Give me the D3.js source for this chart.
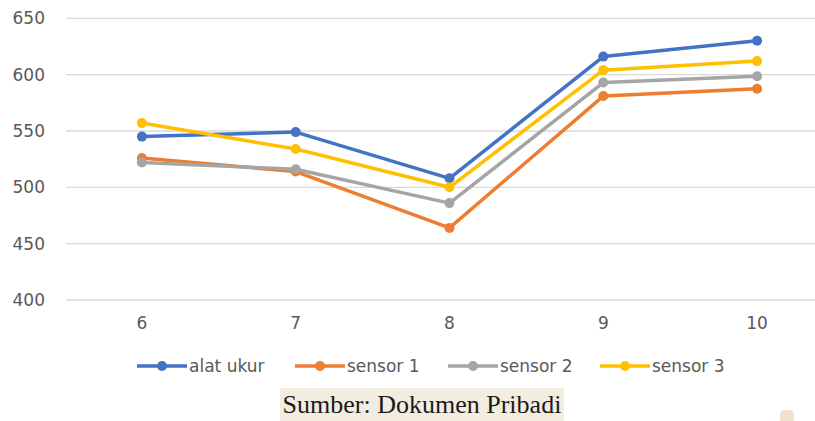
<!DOCTYPE html>
<html><head><meta charset="utf-8">
<script src="https://cdn.jsdelivr.net/npm/d3@7"></script>
<style>html,body{margin:0;padding:0;background:#fff;}svg{display:block;}</style>
</head><body>
<svg id="chart" width="815" height="421"></svg>
<script>
const categories = ["6", "7", "8", "9", "10"];
const yTicks = [400, 450, 500, 550, 600, 650];
const seriesNames = ["alat ukur", "sensor 1", "sensor 2", "sensor 3"];
const alatUkur = [545, 549, 508, 616, 630];
const sensor1 = [526, 514, 464, 581, 587.5];
const sensor2 = [522, 516, 486, 593, 598.5];
const sensor3 = [557, 534, 500, 604, 612];
const colors = ["#4472C4", "#ED7D31", "#A5A5A5", "#FFC000"];
const caption = "Sumber: Dokumen Pribadi";

const series = [alatUkur, sensor1, sensor2, sensor3].map((v, i) => ({name: seriesNames[i], values: v, color: colors[i]}));

const svg = d3.select("#chart");
const x = d3.scalePoint().domain(categories).range([65, 834]).padding(0.5);
const y = d3.scaleLinear().domain([400, 650]).range([300, 18.3]);
const font = "DejaVu Sans, sans-serif";

// gridlines
svg.append("g").selectAll("line").data(yTicks).join("line")
  .attr("x1", 66).attr("x2", 815)
  .attr("y1", d => y(d)).attr("y2", d => y(d))
  .attr("stroke", "#d9d9d9").attr("stroke-width", 1.3);

// y labels
svg.append("g").selectAll("text").data(yTicks).join("text")
  .attr("x", 45).attr("y", d => y(d)).attr("dy", "0.36em")
  .attr("text-anchor", "end")
  .attr("font-family", font).attr("font-size", 17)
  .attr("fill", "#595959").text(d => d);

// x labels
svg.append("g").selectAll("text").data(categories).join("text")
  .attr("x", d => x(d)).attr("y", 323).attr("dy", "0.36em")
  .attr("text-anchor", "middle")
  .attr("font-family", font).attr("font-size", 17)
  .attr("fill", "#595959").text(d => d);

const line = d3.line().x((d, i) => x(categories[i])).y(d => y(d));

const g = svg.append("g");
series.forEach(s => {
  g.append("path").datum(s.values).attr("d", line)
    .attr("fill", "none").attr("stroke", s.color).attr("stroke-width", 3.5)
    .attr("stroke-linejoin", "round").attr("stroke-linecap", "round");
  g.selectAll(null).data(s.values).join("circle")
    .attr("cx", (d, i) => x(categories[i])).attr("cy", d => y(d))
    .attr("r", 5).attr("fill", s.color);
});

// legend
const legendX = [137, 295, 448, 600];
const lg = svg.append("g");
series.forEach((s, i) => {
  const lx = legendX[i], ly = 366;
  lg.append("line").attr("x1", lx).attr("x2", lx + 50).attr("y1", ly).attr("y2", ly)
    .attr("stroke", s.color).attr("stroke-width", 3.5);
  lg.append("circle").attr("cx", lx + 25).attr("cy", ly).attr("r", 5).attr("fill", s.color);
  lg.append("text").attr("x", lx + 52).attr("y", ly).attr("dy", "0.36em")
    .attr("font-family", font).attr("font-size", 17)
    .attr("fill", "#595959").text(s.name);
});

// caption
svg.append("rect").attr("x", 280).attr("y", 388).attr("width", 284).attr("height", 33).attr("fill", "#F3ECE0");
svg.append("text").attr("x", 422).attr("y", 413).attr("text-anchor", "middle")
  .attr("font-family", "Liberation Serif, Times New Roman, serif").attr("font-size", 26)
  .attr("fill", "#1a1a1a").text(caption);

// small corner icon
svg.append("rect").attr("x", 780).attr("y", 410).attr("width", 14).attr("height", 16).attr("rx", 5)
  .attr("fill", "#F0E2CC");
</script>
</body></html>
